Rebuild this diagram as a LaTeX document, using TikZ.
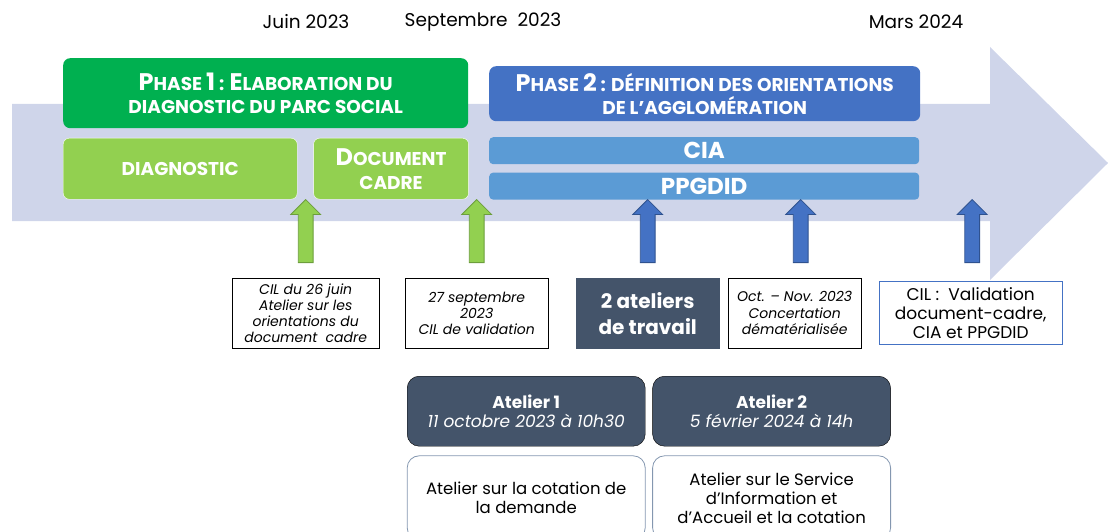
\documentclass[tikz,border=0pt]{standalone}
\usepackage{fontspec}
\setmainfont{Poppins}
\usetikzlibrary{positioning, shapes.arrows}

\definecolor{band}{HTML}{CFD5EA}
\definecolor{phaseone}{HTML}{00B050}
\definecolor{lightgreen}{HTML}{92D050}
\definecolor{darkgreen}{HTML}{6C9E3C}
\definecolor{phasetwo}{HTML}{4472C4}
\definecolor{darkblue}{HTML}{2F528F}
\definecolor{lightblue}{HTML}{5B9BD5}
\definecolor{slate}{HTML}{44546A}
\definecolor{greyline}{HTML}{8497B0}

\newcommand{\ini}[1]{{\fontsize{24}{24}\selectfont #1}}

\begin{document}
\begin{tikzpicture}[x=1pt, y=-1pt,
     node distance = 8pt and 16pt,
      date/.style = {font=\fontsize{18.5}{20}\selectfont},
     phase/.style = {rectangle, rounded corners=7pt, text=white, inner sep=0pt,
                     align=center, font=\bfseries\fontsize{18.5}{23}\selectfont},
       sub/.style = {rectangle, rounded corners=6pt, fill=lightgreen, draw=white,
                     text=white, inner sep=0pt, align=center, minimum height=61pt,
                     font=\bfseries\fontsize{18.5}{24}\selectfont},
       bar/.style = {rectangle, rounded corners=4pt, fill=lightblue, text=white,
                     inner sep=0pt, minimum width=430pt, minimum height=27pt,
                     font=\bfseries\fontsize{23}{24}\selectfont},
   uparrow/.style = {single arrow, shape border rotate=90, inner sep=7pt,
                     single arrow head extend=7.5pt, minimum height=63pt,
                     anchor=tail, line width=0.8pt},
      info/.style = {rectangle, draw, thin, inner sep=0pt, align=center,
                     minimum height=70pt, anchor=north west,
                     font=\itshape\fontsize{14}{16.3}\selectfont},
    atelier/.style = {rectangle, rounded corners=12pt, fill=slate, draw=black,
                     text=white, inner sep=0pt, align=center, minimum width=238pt,
                     minimum height=70pt, font=\fontsize{17}{19}\selectfont},
      note/.style = {rectangle, rounded corners=12pt, draw=greyline, thick,
                     inner sep=0pt, align=center, minimum width=238pt,
                     minimum height=84pt, font=\fontsize{16.5}{19}\selectfont}
                    ]
\clip (0,0) rectangle (1108,532);
% big timeline arrow
\fill[band] (12,104) -- (990,104) -- (990,47) -- (1108,163)
            -- (990,280) -- (990,221) -- (12,221) -- cycle;

% dates
\node (juin) [date] at (306,22) {Juin 2023};
\node (sept) [date] at (483,22) {Septembre~ 2023};
\node (mars) [date] at (916,22) {Mars 2024};

% phase 1
\node (phase1) [phase, fill=phaseone, minimum width=405pt, minimum height=70pt,
                anchor=north west] at (63,58)
     {\ini{P}HASE \ini{1} : \ini{E}LABORATION DU\\DIAGNOSTIC DU PARC SOCIAL};
\node (diag) [sub, minimum width=234pt, anchor=north west] at (63,138) {DIAGNOSTIC};
\node (doc)  [sub, minimum width=155pt, right=16pt of diag] {\ini{D}OCUMENT\\CADRE};

% phase 2
\node (phase2) [phase, fill=phasetwo, minimum width=431pt, minimum height=55pt,
                anchor=north west] at (489,66)
     {\ini{P}HASE \ini{2} : DÉFINITION DES ORIENTATIONS\\DE L’AGGLOMÉRATION};
\node (cia) [bar, anchor=north west] at (489,137) {CIA};
\node (ppgdid) [bar, below=8pt of cia] {PPGDID};

% events
\node (cil1) [info, minimum width=147pt] at (232,278)
     {CIL du 26 juin\\Atelier sur les\\orientations du\\document~ cadre};
\node (cil2) [info, minimum width=143pt] at (405,278)
     {27 septembre\\2023\\CIL de validation};
\node (ateliers) [info, fill=slate, draw=slate, text=white, minimum width=143pt,
                  font=\bfseries\fontsize{20}{26}\selectfont] at (576,278)
     {2 ateliers\\de travail};
\node (concert) [info, minimum width=133pt] at (728,278)
     {Oct. – Nov. 2023\\Concertation\\dématérialisée};
\node (final) [info, draw=phasetwo, minimum width=183pt, minimum height=63pt,
               font=\fontsize{17}{19}\selectfont] at (879,281)
     {CIL :~ Validation\\document-cadre,\\CIA et PPGDID};

% up arrows
\node (a1) [uparrow, fill=lightgreen, draw=darkgreen]
     at ([yshift=15pt]cil1.north) {};
\node (a2) [uparrow, fill=lightgreen, draw=darkgreen]
     at ([yshift=15pt]cil2.north) {};
\node (a3) [uparrow, fill=phasetwo, draw=darkblue]
     at ([yshift=15pt]ateliers.north) {};
\node (a4) [uparrow, fill=phasetwo, draw=darkblue]
     at ([xshift=6pt, yshift=15pt]concert.north) {};
\node (a5) [uparrow, fill=phasetwo, draw=darkblue]
     at ([xshift=1.5pt, yshift=18pt]final.north) {};

% workshops
\node (at1) [atelier, anchor=north west] at (407,376)
     {\textbf{Atelier 1}\\\textit{11 octobre 2023 à 10h30}};
\node (at2) [atelier, right=7pt of at1]
     {\textbf{Atelier 2}\\\textit{5 février 2024 à 14h}};
\node (w1) [note, below=9pt of at1] {Atelier sur la cotation de\\la demande};
\node (w2) [note, below=9pt of at2]
     {Atelier sur le Service\\d’Information et\\d’Accueil et la cotation};
\end{tikzpicture}
\end{document}
